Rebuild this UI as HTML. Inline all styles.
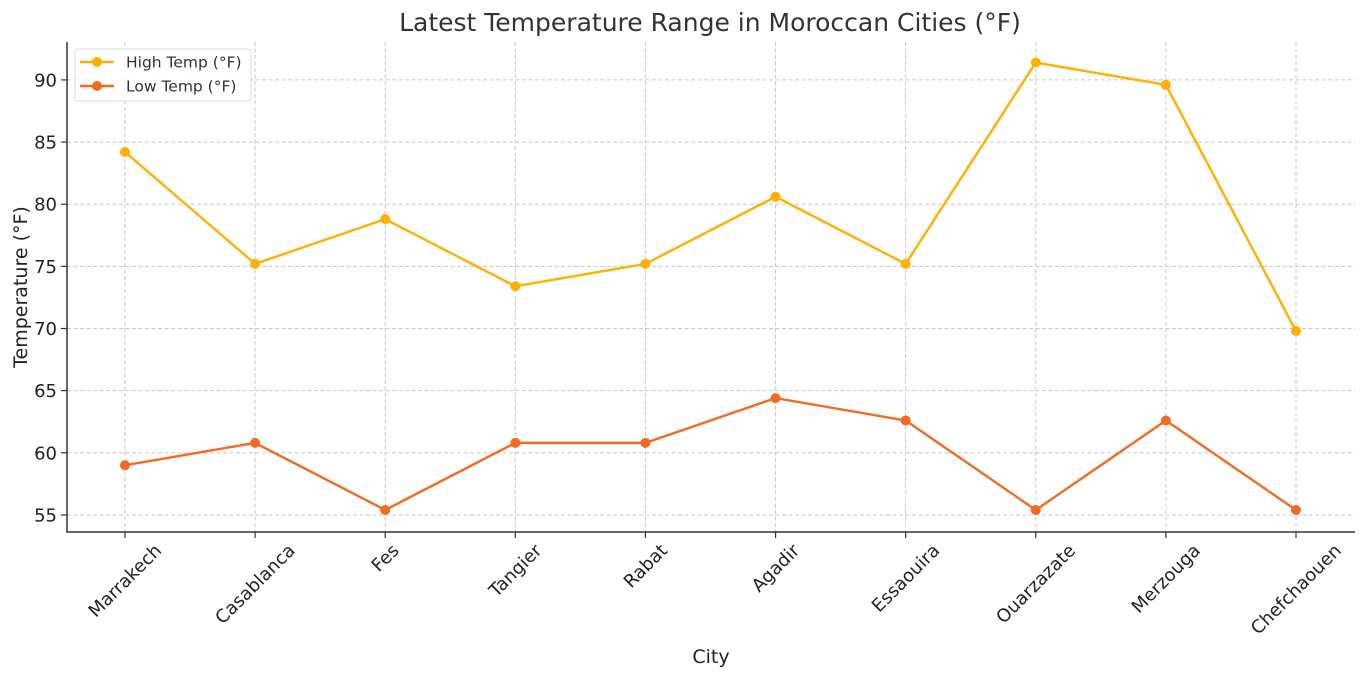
<!DOCTYPE html>
<html><head><meta charset="utf-8"><style>
html,body{margin:0;padding:0;background:#fff;}
svg{display:block;font-family:"DejaVu Sans","Liberation Sans",sans-serif;}
</style></head><body>
<svg id="chart" width="1366" height="678" viewBox="0 0 1366 678" xmlns="http://www.w3.org/2000/svg">
<text x="710" y="31" text-anchor="middle" font-size="25" fill="#333">Latest Temperature Range in Moroccan Cities (°F)</text>
<g id="grid"></g><g id="axes"></g><g id="series"></g><g id="legend"></g>
<text x="711" y="663" text-anchor="middle" font-size="19" fill="#222">City</text>
<text transform="translate(27,287) rotate(-90)" text-anchor="middle" font-size="19" fill="#222">Temperature (°F)</text>
</svg>
<script>
const categories=["Marrakech","Casablanca","Fes","Tangier","Rabat","Agadir","Essaouira","Ouarzazate","Merzouga","Chefchaouen"];
const highTemps=[84.2,75.2,78.8,73.4,75.2,80.6,75.2,91.4,89.6,69.8];
const lowTemps=[59.0,60.8,55.4,60.8,60.8,64.4,62.6,55.4,62.6,55.4];
const yTicks=[55,60,65,70,75,80,85,90];
const seriesNames=["High Temp (°F)","Low Temp (°F)"];
const colors=["#FFB000","#F26B21"];

const NS="http://www.w3.org/2000/svg";
const L=67,R=1355,T=42,B=532;
const x0=125,x1=1296;
const yMin=53.63,yMax=93.05;
function xs(i){return x0+(x1-x0)*i/(categories.length-1);}
function ys(v){return B-(v-yMin)/(yMax-yMin)*(B-T);}
function mk(tag,attrs,parent){const e=document.createElementNS(NS,tag);for(const k in attrs)e.setAttribute(k,attrs[k]);parent.appendChild(e);return e;}
const grid=document.getElementById('grid'),axes=document.getElementById('axes'),ser=document.getElementById('series'),leg=document.getElementById('legend');

categories.forEach((c,i)=>{
  const g=mk('line',{x1:xs(i),x2:xs(i),y1:T,y2:B,stroke:'#c8c8c8','stroke-dasharray':'4,2.5','stroke-width':1},grid);
  
  
  const t=mk('line',{x1:xs(i),x2:xs(i),y1:B,y2:B+6,stroke:'#333','stroke-width':1.2},axes);
  
  
  const tx=mk('text',{'font-size':18,fill:'#222','text-anchor':'middle'},axes);
  tx.textContent=c;
  
  
  const len=tx.getComputedTextLength();
  const half=(len+18)*0.7071/2;
  tx.setAttribute('transform','translate('+xs(i)+','+(541+half)+') rotate(-45)');
  tx.setAttribute('dy','6');
});
yTicks.forEach(v=>{
  const g=mk('line',{x1:L,x2:R,y1:ys(v),y2:ys(v),stroke:'#c8c8c8','stroke-dasharray':'4,2.5','stroke-width':1},grid);
  
  
  const t=mk('line',{x1:L-6,x2:L,y1:ys(v),y2:ys(v),stroke:'#333','stroke-width':1.2},axes);
  
  
  const tx=mk('text',{x:L-10,y:ys(v)+6.5,'font-size':18,fill:'#222','text-anchor':'end'},axes);
  tx.textContent=v;
  
  
});
const ax1=mk('line',{x1:L,x2:L,y1:T,y2:B+0.7,stroke:'#333','stroke-width':1.5},axes);


const ax2=mk('line',{x1:L,x2:R,y1:B,y2:B,stroke:'#333','stroke-width':1.5},axes);



[highTemps,lowTemps].forEach((arr,s)=>{
  const p=mk('polyline',{points:arr.map((v,i)=>xs(i)+','+ys(v)).join(' '),fill:'none',stroke:colors[s],'stroke-width':2.4},ser);
  
  
  arr.forEach((v,i)=>{
    const c=mk('circle',{cx:xs(i),cy:ys(v),r:5,fill:colors[s]},ser);
    
    
  });
});

const box=mk('rect',{x:75,y:49,width:176,height:52,rx:3,fill:'#fff','fill-opacity':0.85,stroke:'#ddd'},leg);


seriesNames.forEach((n,s)=>{
  const y=62+s*24;
  const g=mk('g',{},leg);
  
  
  mk('line',{x1:80,x2:114,y1:y,y2:y,stroke:colors[s],'stroke-width':2.4},g);
  mk('circle',{cx:97,cy:y,r:5,fill:colors[s]},g);
  const t=mk('text',{x:126,y:y+5.5,'font-size':15.5,fill:'#333'},g);
  t.textContent=n;
});
</script>
</body></html>
